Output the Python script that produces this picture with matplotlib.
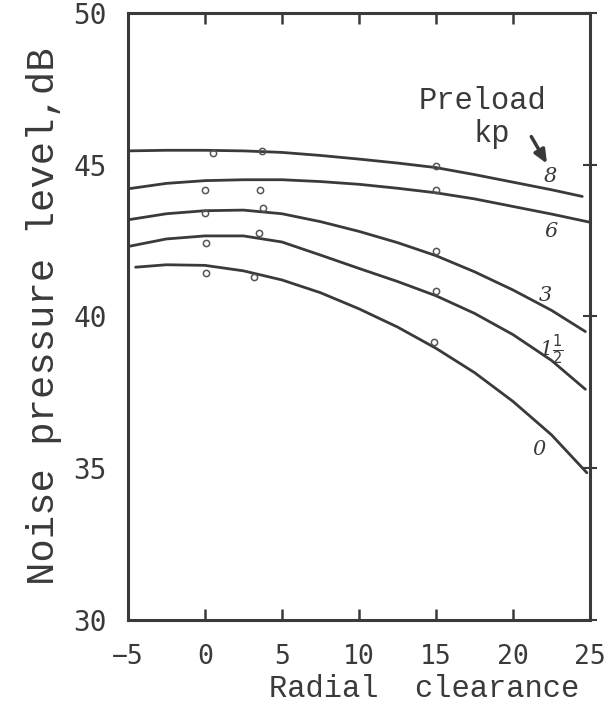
import matplotlib.pyplot as plt
import numpy as np

# curves (radial clearance, noise level dB)
x_8 = [-5, -2.5, 0, 2.5, 5, 7.5, 10, 12.5, 15, 17.5, 20, 22.5, 24.5]
y_8 = [45.45, 45.47, 45.47, 45.45, 45.4, 45.3, 45.18, 45.05, 44.9, 44.67, 44.42, 44.17, 43.95]

x_6 = [-5, -2.5, 0, 2.5, 5, 7.5, 10, 12.5, 15, 17.5, 20, 22.5, 25]
y_6 = [44.2, 44.38, 44.47, 44.5, 44.5, 44.44, 44.35, 44.22, 44.07, 43.87, 43.62, 43.37, 43.1]

x_3 = [-5, -2.5, 0, 2.5, 5, 7.5, 10, 12.5, 15, 17.5, 20, 22.5, 24.7]
y_3 = [43.18, 43.38, 43.48, 43.5, 43.38, 43.12, 42.8, 42.43, 42.0, 41.47, 40.87, 40.2, 39.5]

x_15 = [-5, -2.5, 0, 2.5, 5, 7.5, 10, 12.5, 15, 17.5, 20, 22.5, 24.7]
y_15 = [42.3, 42.55, 42.65, 42.65, 42.45, 42.02, 41.58, 41.15, 40.68, 40.1, 39.4, 38.55, 37.6]

x_0 = [-4.5, -2.5, 0, 2.5, 5, 7.5, 10, 12.5, 15, 17.5, 20, 22.5, 24.8]
y_0 = [41.62, 41.7, 41.68, 41.5, 41.2, 40.78, 40.25, 39.65, 38.95, 38.15, 37.2, 36.1, 34.85]

# hand drawn measurement points
pts_x = [0.5, 3.7, 15, 0, 3.6, 15, 0, 3.8, 15, 0.1, 3.5, 15, 0.1, 3.2, 14.9]
pts_y = [45.37, 45.45, 44.95, 44.17, 44.17, 44.17, 43.42, 43.57, 42.14,
         42.42, 42.75, 40.82, 41.43, 41.31, 39.17]

curve_labels = ['8', '6', '3', r'1$\frac{1}{2}$', '0']
label_x = [22.4, 22.5, 22.1, 22.5, 21.7]
label_y = [44.6, 42.8, 40.7, 38.9, 35.6]

ink = '#3a3a3a'

fig = plt.figure(figsize=(6.12, 7.07), dpi=100)
ax = fig.add_axes([0.209, 0.123, 0.755, 0.859])

for xs, ys in [(x_8, y_8), (x_6, y_6), (x_3, y_3), (x_15, y_15), (x_0, y_0)]:
    ax.plot(xs, ys, color=ink, lw=2.0, solid_capstyle='round',
            solid_joinstyle='round')

ax.plot(pts_x, pts_y, 'o', ms=4.5, mfc='none', mec='#555555', mew=1.1)

for t, lx, ly in zip(curve_labels, label_x, label_y):
    ax.text(lx, ly, t, fontsize=15, style='italic', color=ink,
            ha='center', va='center', family='DejaVu Serif')

ax.text(18.0, 47.1, 'Preload', fontsize=22, family='Liberation Mono',
        color=ink, ha='center', va='center')
ax.text(18.6, 46.0, 'kp', fontsize=22, family='Liberation Mono',
        color=ink, ha='center', va='center')
ax.annotate('', xy=(22.3, 44.95), xytext=(21.1, 46.0),
            arrowprops=dict(arrowstyle='-|>,head_length=0.8,head_width=0.35',
                            color=ink, lw=2.5))

ax.set_xlim(-5, 25)
ax.set_ylim(30, 50)
ax.set_xticks([-5, 0, 5, 10, 15, 20, 25])
ax.set_yticks([30, 35, 40, 45, 50])

for s in ax.spines.values():
    s.set_color(ink)
    s.set_linewidth(2.2)

ax.tick_params(axis='x', direction='in', length=8, width=1.8, color=ink,
               top=True, pad=17, labelsize=19, labelcolor=ink)
ax.tick_params(axis='y', left=False, right=True, direction='inout', length=10,
               width=1.5, color=ink, pad=10, labelsize=20, labelcolor=ink)
for lab in ax.get_xticklabels() + ax.get_yticklabels():
    lab.set_family('DejaVu Sans Mono')

ax.set_xlabel('Radial  clearance', fontsize=22, family='Liberation Mono',
              color=ink, labelpad=3, x=0.64)
ax.set_ylabel('Noise pressure level,dB', fontsize=28, family='Liberation Mono',
              color=ink, labelpad=8)

fig.savefig('out.png', dpi=100)
